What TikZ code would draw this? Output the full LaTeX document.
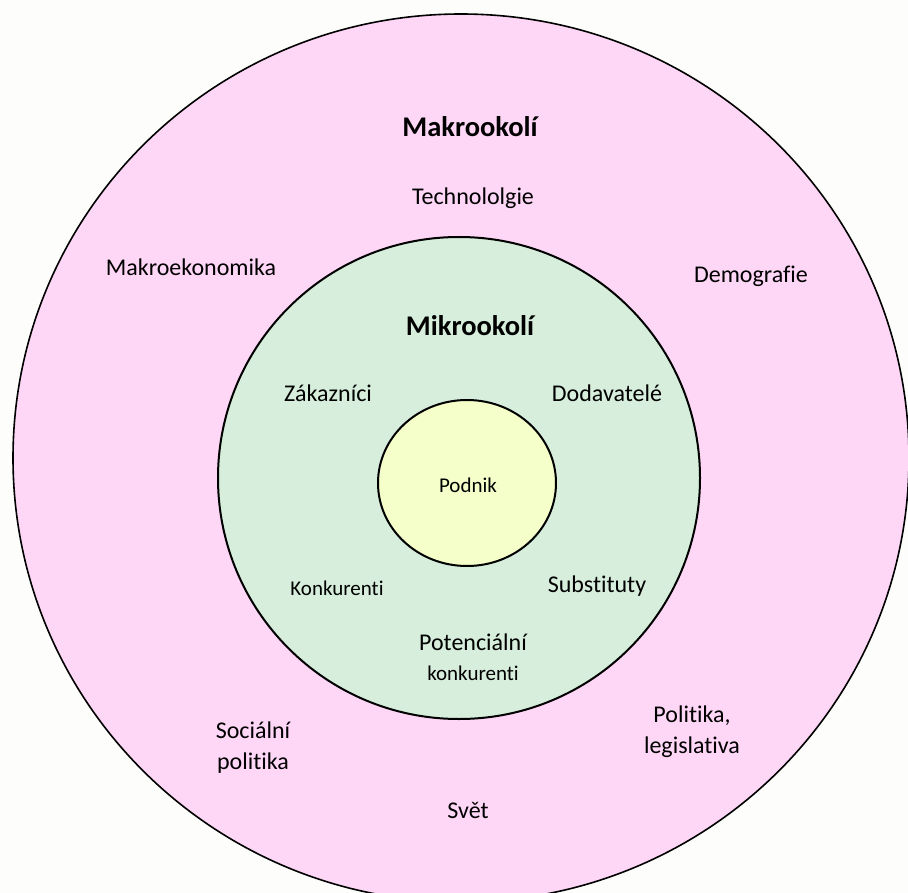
\documentclass[tikz,border=0pt]{standalone}
\usepackage{fontspec}
\setmainfont{Carlito}[Ligatures = NoCommon]
\usepackage{tikz}

\definecolor{makro}{HTML}{FED6F6}
\definecolor{mikro}{HTML}{D6EEDB}
\definecolor{jadro}{HTML}{F4FFCA}
\definecolor{pozadi}{HTML}{FDFDFB}

\tikzset{
	popis/.style = {anchor = base, align = center, inner sep = 0pt, font = \fontsize{24}{31}\selectfont},
	popismaly/.style = {popis, font = \fontsize{21}{30}\selectfont},
	nadpis/.style = {popis, font = \fontsize{28.5}{34}\selectfont\bfseries}
}

\begin{document}
\begin{tikzpicture}[x = 1pt, y = -1pt]
	\fill [pozadi] (0,0) rectangle (908,893);
	\useasboundingbox (0,0) rectangle (908,893);
	\clip (0,0) rectangle (908,893);
	% tri kruhy okoli
	\draw [fill = makro, line width = 1.6pt] (461,458) ellipse [x radius = 448, y radius = 444];
	\draw [fill = mikro, line width = 2pt] (459,478) circle [radius = 241];
	\draw [fill = jadro, line width = 2pt] (467,483) ellipse [x radius = 89, y radius = 83];
	% makrookoli
	\node [nadpis] (makro) at (470,137) {Makrookolí};
	\node [popis] (tech) at (473,205) {Technololgie};
	\node [popis] (ekon) at (191,276) {Makroekonomika};
	\node [popis] (demo) at (751,283) {Demografie};
	\node [popis] (soc) at (253,769) {Sociální\\politika};
	\node [popis] (pol) at (692,753) {Politika,\\legislativa};
	\node [popis] (svet) at (468,818) {Svět};
	% mikrookoli
	\node [nadpis] (mikro) at (470,336) {Mikrookolí};
	\node [popis] (zak) at (328,402) {Zákazníci};
	\node [popis] (dod) at (607,402) {Dodavatelé};
	\node [popismaly] (konk) at (337,595) {Konkurenti};
	\node [popis] (subst) at (597,592) {Substituty};
	\node [popis] (potenc) at (473,680) {Potenciální\\[-1pt]{\fontsize{21}{30}\selectfont konkurenti}};
	% podnik
	\node [popismaly] (podnik) at (468,492) {Podnik};
\end{tikzpicture}
\end{document}
